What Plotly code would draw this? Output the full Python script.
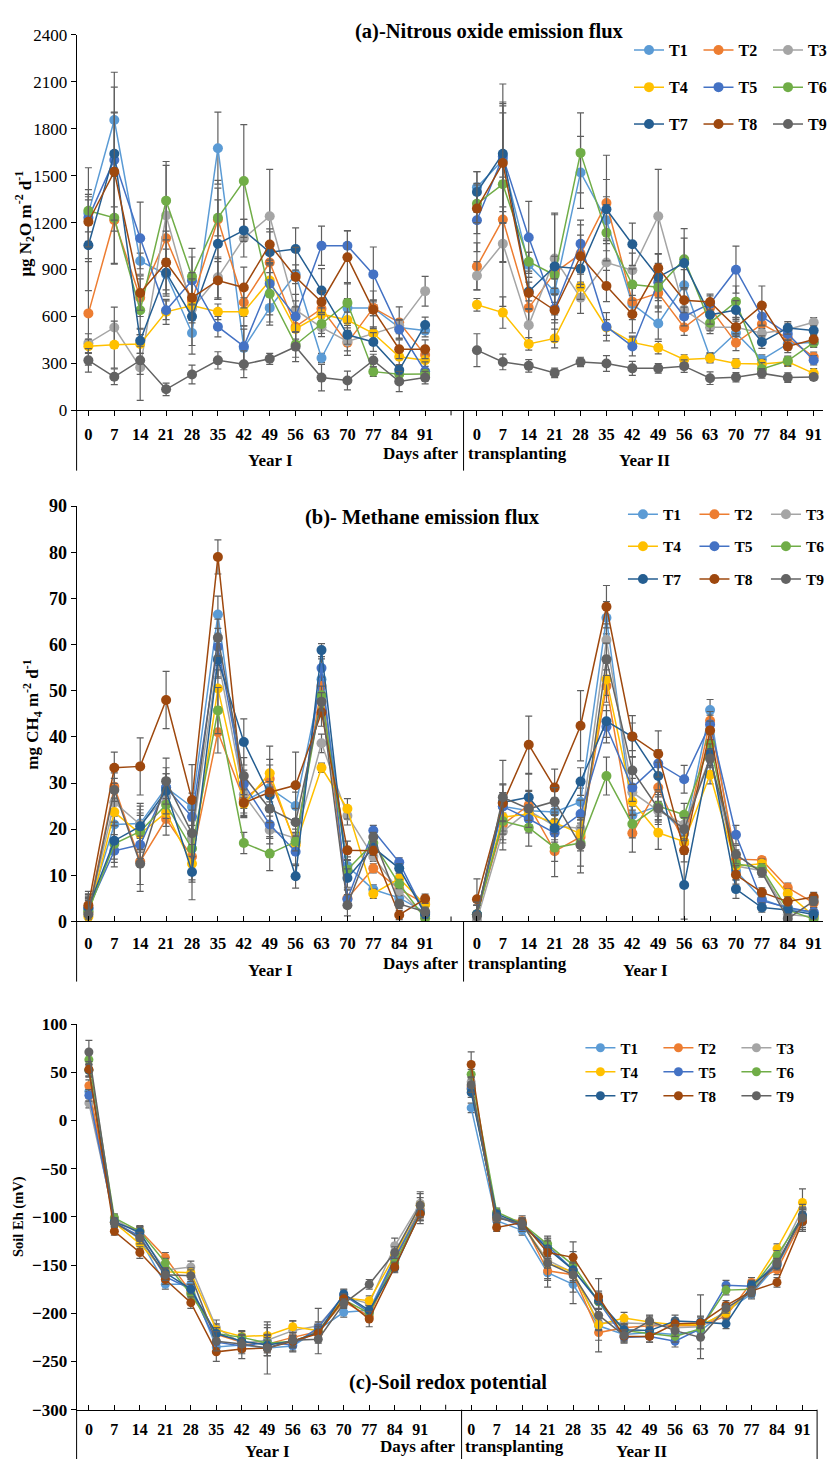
import plotly.graph_objects as go

W, H = 838, 1469
FONT = "Liberation Serif, Times New Roman, serif"


def px(x):
    return x / W


def py(y):
    return 1 - y / H


SERIES = ["T1", "T2", "T3", "T4", "T5", "T6", "T7", "T8", "T9"]
COLORS = ["#5B9BD5", "#ED7D31", "#A5A5A5", "#FFC000", "#4472C4",
          "#70AD47", "#255E91", "#9E480E", "#636363"]
DAYS = [0, 7, 14, 21, 28, 35, 42, 49, 56, 63, 70, 77, 84, 91]
ERR_COLOR = "#5F5F5F"

# ---------------- (a) N2O flux (ug N2O m-2 d-1): Year I then Year II ----------------
N2O_T1 = [1260, 1855, 955, 870, 495, 1675, 400, 655, 870, 335, 655, 655, 530, 510,
          1425, 1600, 930, 760, 1520, 1215, 680, 555, 800, 340, 495, 325, 425, 436]
N2O_T2 = [620, 1215, 720, 1100, 700, 1220, 690, 945, 535, 650, 432, 655, 562, 355,
          920, 1220, 655, 880, 1000, 1325, 695, 750, 530, 655, 432, 552, 462, 342]
N2O_T3 = [430, 530, 275, 1245, 650, 850, 1100, 1240, 642, 531, 441, 493, 542, 762,
          860, 1065, 545, 970, 720, 945, 895, 1240, 643, 531, 531, 493, 517, 563]
N2O_T4 = [410, 420, 425, 630, 670, 630, 630, 830, 521, 615, 578, 493, 343, 321,
          675, 625, 425, 460, 790, 530, 435, 401, 326, 334, 300, 296, 311, 237]
N2O_T5 = [1230, 1600, 1100, 640, 830, 535, 410, 810, 600, 1052, 1052, 869, 517, 250,
          1215, 1620, 1105, 650, 1065, 535, 409, 819, 600, 682, 899, 600, 489, 321]
N2O_T6 = [1275, 1230, 640, 1340, 855, 1230, 1465, 745, 420, 552, 687, 248, 231, 233,
          1320, 1445, 950, 865, 1645, 1135, 804, 787, 966, 559, 695, 265, 317, 433]
N2O_T7 = [1055, 1640, 445, 880, 600, 1065, 1150, 1010, 1031, 766, 483, 437, 258, 546,
          1395, 1640, 760, 920, 905, 1285, 1062, 852, 941, 611, 641, 437, 527, 510]
N2O_T8 = [1205, 1525, 750, 945, 720, 830, 785, 1060, 852, 693, 978, 643, 391, 391,
          1290, 1580, 750, 640, 985, 795, 615, 909, 704, 693, 531, 670, 409, 453]
N2O_T9 = [320, 215, 320, 135, 230, 320, 295, 330, 407, 210, 191, 319, 185, 210,
          385, 310, 285, 240, 310, 300, 269, 269, 283, 206, 212, 237, 210, 214]

N2O_T1_ERR = [290, 305, 50, 100, 80, 230, 140, 90, 60, 30, 60, 50, 40, 40,
              100, 300, 80, 150, 230, 150, 100, 100, 100, 30, 60, 30, 40, 30]
N2O_T2_ERR = [330, 280, 120, 150, 120, 250, 90, 100, 80, 40, 80, 50, 100, 50,
              150, 270, 100, 100, 120, 305, 100, 120, 50, 40, 50, 40, 40, 30]
N2O_T3_ERR = [60, 130, 210, 320, 60, 130, 120, 300, 100, 60, 60, 40, 40, 95,
              90, 400, 100, 280, 100, 140, 110, 300, 60, 40, 40, 30, 40, 30]
N2O_T4_ERR = [45, 150, 60, 80, 60, 50, 90, 100, 80, 40, 50, 40, 50, 40,
              40, 100, 40, 60, 80, 50, 40, 40, 30, 30, 30, 30, 30, 30]
N2O_T5_ERR = [150, 300, 230, 60, 150, 65, 110, 200, 100, 125, 95, 175, 60, 60,
              200, 350, 230, 90, 150, 90, 60, 100, 60, 50, 150, 60, 40, 30]
N2O_T6_ERR = [135, 290, 120, 250, 180, 115, 360, 200, 80, 60, 130, 30, 30, 30,
              120, 500, 60, 120, 255, 180, 100, 120, 195, 50, 100, 40, 30, 30]
N2O_T7_ERR = [290, 425, 80, 150, 240, 355, 70, 130, 135, 140, 60, 60, 30, 50,
              130, 445, 60, 340, 100, 190, 135, 150, 160, 60, 60, 40, 40, 30]
N2O_T8_ERR = [160, 380, 110, 200, 160, 120, 130, 100, 190, 70, 170, 120, 60, 60,
              160, 380, 100, 200, 200, 100, 120, 90, 80, 50, 60, 125, 40, 30]
N2O_T9_ERR = [75, 50, 90, 40, 60, 55, 85, 35, 95, 85, 60, 40, 65, 40,
              105, 50, 40, 30, 30, 50, 45, 30, 40, 40, 30, 30, 30, 20]

# ---------------- (b) CH4 flux (mg CH4 m-2 d-1) ----------------
CH4_T1 = [2.5, 21.0, 21.2, 29.0, 24.8, 66.5, 26.0, 28.9, 25.0, 52.5, 12.0, 6.9, 5.1, 2.0,
          1.5, 24.9, 24.0, 23.7, 25.9, 65.8, 23.0, 25.0, 19.0, 45.8, 11.0, 4.8, 2.8, 1.9]
CH4_T2 = [2.0, 29.2, 13.0, 22.2, 14.0, 41.0, 26.5, 30.9, 17.0, 51.0, 5.0, 11.5, 7.0, 3.8,
          1.5, 21.0, 25.2, 15.2, 18.3, 51.0, 19.1, 29.0, 17.0, 43.5, 13.5, 13.3, 7.3, 4.0]
CH4_T3 = [1.8, 25.8, 21.0, 27.0, 18.0, 57.0, 27.5, 19.8, 18.0, 38.6, 22.9, 14.0, 6.6, 1.0,
          0.3, 19.5, 24.0, 20.7, 20.2, 61.0, 28.0, 24.0, 21.0, 35.5, 12.0, 11.0, 1.5, 1.0]
CH4_T4 = [1.0, 23.7, 19.0, 23.6, 12.5, 50.5, 25.5, 32.1, 16.5, 33.3, 24.4, 6.0, 9.3, 3.6,
          1.5, 22.6, 23.3, 21.4, 19.0, 52.5, 26.0, 19.2, 17.3, 31.8, 12.0, 12.5, 6.0, 1.2]
CH4_T5 = [2.8, 15.3, 16.6, 29.0, 22.7, 59.5, 29.8, 21.0, 15.1, 54.9, 4.8, 19.7, 12.8, 1.6,
          1.5, 24.9, 22.2, 19.2, 23.3, 42.2, 29.0, 34.2, 30.8, 42.7, 18.8, 4.5, 3.0, 2.0]
CH4_T6 = [2.2, 16.8, 19.5, 25.3, 15.8, 45.7, 17.0, 14.7, 17.3, 49.0, 11.2, 17.0, 8.1, 0.7,
          1.5, 21.7, 20.3, 16.0, 17.0, 31.5, 21.1, 25.0, 23.1, 38.5, 12.5, 11.5, 2.5, 0.5]
CH4_T7 = [3.0, 17.5, 20.6, 28.3, 10.7, 56.7, 38.9, 27.3, 9.8, 58.8, 9.4, 16.0, 11.5, 1.6,
          1.5, 25.8, 26.9, 20.2, 30.3, 43.4, 40.0, 31.5, 7.9, 36.5, 7.0, 3.0, 2.5, 1.5]
CH4_T8 = [3.5, 33.3, 33.6, 48.0, 26.3, 79.0, 25.7, 28.0, 29.5, 45.3, 15.4, 15.3, 1.4, 4.9,
          4.8, 25.6, 38.3, 29.0, 42.4, 68.2, 40.1, 36.3, 15.4, 41.4, 10.1, 6.3, 4.3, 5.3]
CH4_T9 = [1.5, 28.5, 12.5, 30.4, 19.1, 61.5, 31.5, 24.4, 21.5, 47.6, 3.5, 18.3, 3.8, 2.1,
          1.2, 26.9, 24.4, 26.0, 16.5, 56.8, 32.7, 24.5, 20.0, 35.3, 14.5, 10.6, 0.6, 4.4]

CH4_T1_ERR = [3, 3, 3, 3, 3, 4, 3, 3, 3, 2, 2, 1, 1, 1,
              2, 3, 3, 3, 3, 3.5, 3, 3, 2.5, 2.3, 2, 1, 1, 1]
CH4_T2_ERR = [3, 3, 5, 3.5, 5, 4.5, 3, 3, 2, 2, 2, 1, 1, 1,
              2, 4, 3, 5.5, 3, 3.5, 4.1, 3, 2.5, 2, 2, 0.7, 1, 1]
CH4_T3_ERR = [3, 3, 4, 3, 4, 4, 3, 3, 2, 2, 2, 1, 1, 1,
              2, 4, 3, 3, 3, 3.5, 3, 3, 2.5, 2, 2, 1, 1, 1]
CH4_T4_ERR = [3, 3, 4, 3, 4, 4, 3, 3, 2, 1, 2.2, 1, 1, 1,
              2, 3, 3, 3, 3, 3.5, 3, 3.6, 2.5, 2, 2, 1, 1, 1]
CH4_T5_ERR = [3, 3.5, 3, 3, 3, 4, 3, 3, 3, 2, 2, 1.1, 1, 1,
              2, 3, 3, 3, 3, 3.5, 3, 3, 3, 2, 2, 1, 1, 1]
CH4_T6_ERR = [3, 4, 4, 3, 5, 5, 2.3, 3.7, 2, 2, 2, 1, 1, 1,
              2, 4, 4, 3, 5, 4.1, 3, 3, 2.5, 2, 2, 1, 1, 1]
CH4_T7_ERR = [3, 4, 5, 5, 6, 4, 5, 3, 2.6, 1.4, 2, 1, 1, 1,
              2, 4, 5, 3, 3, 3.5, 3, 3, 7.4, 2, 2, 1, 1, 1]
CH4_T8_ERR = [3, 3.4, 6.2, 6.2, 7.7, 3.7, 3, 10, 7.2, 3, 2, 1, 1, 1,
              4.4, 4, 6.2, 4, 7.6, 4.6, 4.5, 5, 2.5, 2, 2, 1, 1, 1]
CH4_T9_ERR = [3, 2.5, 6, 5, 5, 4, 4, 3, 3, 2, 2.3, 1, 1, 1,
              3, 8, 4, 3, 6, 3.5, 3, 3, 2.5, 2, 2, 1, 1, 1]

# ---------------- (c) Soil Eh (mV) ----------------
EH_T1 = [30, -105, -123, -170, -170, -235, -233, -236, -234, -217, -199, -197, -142, -92,
         13, -104, -114, -158, -170, -213, -222, -220, -222, -218, -198, -180, -150, -105]
EH_T2 = [36, -106, -114, -142, -178, -222, -230, -232, -225, -219, -188, -203, -145, -93,
         35, -102, -104, -156, -160, -220, -215, -213, -213, -213, -203, -168, -155, -103]
EH_T3 = [18, -102, -118, -155, -152, -215, -231, -228, -218, -213, -183, -190, -130, -86,
         40, -100, -108, -145, -158, -210, -210, -211, -215, -214, -198, -176, -145, -92]
EH_T4 = [52, -106, -128, -157, -158, -217, -224, -223, -214, -218, -184, -187, -140, -88,
         32, -100, -106, -148, -157, -212, -205, -209, -212, -212, -200, -174, -133, -85]
EH_T5 = [26, -106, -120, -162, -175, -230, -234, -230, -233, -215, -181, -199, -143, -95,
         33, -99, -110, -130, -155, -188, -225, -224, -229, -216, -171, -172, -148, -100]
EH_T6 = [63, -101, -115, -148, -180, -221, -225, -231, -229, -220, -186, -200, -148, -96,
         48, -95, -107, -128, -150, -188, -218, -221, -224, -216, -176, -175, -140, -100]
EH_T7 = [52, -105, -116, -158, -175, -221, -229, -233, -229, -220, -180, -197, -153, -96,
         29, -97, -108, -133, -155, -187, -217, -218, -208, -209, -211, -171, -150, -98]
EH_T8 = [53, -115, -137, -165, -189, -240, -237, -236, -229, -221, -185, -206, -152, -97,
         58, -111, -106, -137, -142, -183, -224, -224, -211, -210, -192, -177, -168, -105]
EH_T9 = [71, -106, -122, -160, -161, -229, -232, -236, -228, -227, -190, -170, -137, -88,
         37, -101, -107, -148, -160, -202, -223, -208, -218, -225, -195, -178, -148, -101]

EH_T1_ERR = [6, 4, 5, 5, 5, 6, 6, 8, 6, 6, 5, 5, 5, 8,
             5, 4, 5, 8, 8, 8, 6, 6, 6, 6, 5, 5, 5, 8]
EH_T2_ERR = [6, 4, 5, 5, 5, 6, 6, 8, 6, 6, 5, 5, 5, 8,
             5, 4, 5, 8, 8, 8, 6, 6, 6, 6, 5, 5, 5, 8]
EH_T3_ERR = [5, 4, 8, 6, 6, 8, 8, 16, 10, 18, 5, 5, 8, 12,
             5, 4, 5, 8, 32, 8, 6, 6, 6, 33, 5, 5, 5, 8]
EH_T4_ERR = [6, 4, 5, 5, 5, 6, 6, 8, 6, 6, 5, 5, 5, 8,
             5, 4, 5, 5, 5, 5, 6, 6, 5, 5, 5, 5, 5, 14]
EH_T5_ERR = [6, 4, 5, 5, 5, 6, 6, 8, 6, 6, 5, 5, 5, 8,
             5, 4, 5, 8, 8, 8, 6, 6, 6, 6, 5, 5, 5, 8]
EH_T6_ERR = [6, 4, 5, 5, 5, 6, 6, 8, 6, 6, 5, 5, 5, 8,
             5, 4, 5, 8, 8, 8, 6, 6, 6, 6, 5, 5, 5, 8]
EH_T7_ERR = [6, 4, 5, 5, 5, 6, 6, 8, 6, 6, 5, 5, 5, 8,
             5, 4, 5, 8, 8, 8, 6, 6, 6, 6, 5, 5, 5, 8]
EH_T8_ERR = [8, 4, 6, 5, 6, 10, 10, 8, 5, 5, 5, 8, 5, 10,
             13, 4, 5, 6, 6, 6, 6, 6, 6, 6, 5, 5, 5, 10]
EH_T9_ERR = [12, 5, 6, 6, 6, 10, 10, 27, 8, 15, 5, 5, 6, 12,
             8, 5, 5, 25, 6, 38, 6, 6, 6, 12, 5, 5, 5, 14]

N2O = [N2O_T1, N2O_T2, N2O_T3, N2O_T4, N2O_T5, N2O_T6, N2O_T7, N2O_T8, N2O_T9]
N2O_ERR = [N2O_T1_ERR, N2O_T2_ERR, N2O_T3_ERR, N2O_T4_ERR, N2O_T5_ERR,
           N2O_T6_ERR, N2O_T7_ERR, N2O_T8_ERR, N2O_T9_ERR]
CH4 = [CH4_T1, CH4_T2, CH4_T3, CH4_T4, CH4_T5, CH4_T6, CH4_T7, CH4_T8, CH4_T9]
CH4_ERR = [CH4_T1_ERR, CH4_T2_ERR, CH4_T3_ERR, CH4_T4_ERR, CH4_T5_ERR,
           CH4_T6_ERR, CH4_T7_ERR, CH4_T8_ERR, CH4_T9_ERR]
EH = [EH_T1, EH_T2, EH_T3, EH_T4, EH_T5, EH_T6, EH_T7, EH_T8, EH_T9]
EH_ERR = [EH_T1_ERR, EH_T2_ERR, EH_T3_ERR, EH_T4_ERR, EH_T5_ERR,
          EH_T6_ERR, EH_T7_ERR, EH_T8_ERR, EH_T9_ERR]

# category positions: Year I (0-13), one empty slot (14), Year II (15-28)
X_POS = list(range(29))
LABEL_POS = list(range(14)) + list(range(15, 29))
TICKTEXT = [str(d) for d in DAYS] + [str(d) for d in DAYS]
GAP_POS = 14


def split(v):
    return list(v[:14]) + [None] + list(v[14:])


fig = go.Figure()

panels = [
    dict(vals=N2O, errs=N2O_ERR, xa="x", ya="y", leg=["legend", "legend2", "legend3"], ms=10),
    dict(vals=CH4, errs=CH4_ERR, xa="x2", ya="y2", leg=["legend4", "legend5", "legend6"], ms=10),
    dict(vals=EH, errs=EH_ERR, xa="x3", ya="y3", leg=["legend7", "legend8", "legend9"], ms=9),
]

for p in panels:
    for i, s in enumerate(SERIES):
        errs = [0 if e is None else e for e in split(p["errs"][i])]
        fig.add_trace(go.Scatter(
            x=X_POS, y=split(p["vals"][i]), name=s, mode="lines+markers",
            line=dict(color=COLORS[i], width=1.5),
            marker=dict(color=COLORS[i], size=p["ms"]),
            error_y=dict(type="data", array=errs, color=ERR_COLOR, thickness=1.2, width=3.5),
            connectgaps=False, xaxis=p["xa"], yaxis=p["ya"], legend=p["leg"][i // 3],
        ))


def xaxis_cfg(dom_right, rng, anchor, ticks, standoff, fsize):
    return dict(domain=[px(78), dom_right], range=rng, anchor=anchor,
                tickvals=LABEL_POS, ticktext=TICKTEXT, showline=True, linecolor="black",
                linewidth=1, ticks=ticks, ticklen=5, tickcolor="black", showgrid=False,
                zeroline=False, ticklabelstandoff=standoff, fixedrange=True,
                tickfont=dict(family=FONT, size=fsize, color="black", weight="bold"))


ycommon = dict(showline=True, linecolor="black", linewidth=1, ticks="outside", ticklen=5,
               tickcolor="black", showgrid=False, zeroline=False, fixedrange=True)

fig.update_layout(
    width=W, height=H, margin=dict(l=0, r=0, t=0, b=0),
    paper_bgcolor="white", plot_bgcolor="white",
    xaxis=xaxis_cfg(1.0, [-0.455, 28.36], "y", "outside", 4, 16.5),
    yaxis=dict(domain=[py(406), py(25)], range=[0, 2400], dtick=300, anchor="x",
               tickfont=dict(family=FONT, size=17, color="black"), **ycommon),
    xaxis2=xaxis_cfg(1.0, [-0.455, 28.36], "y2", "inside", 7, 16.5),
    yaxis2=dict(domain=[py(924), py(503)], range=[0, 90], dtick=10, anchor="x2",
                tickfont=dict(family=FONT, size=18, color="black", weight="bold"), **ycommon),
    xaxis3=xaxis_cfg(px(832), [-0.482, 28.574], "y3", "inside", 5, 16),
    yaxis3=dict(domain=[py(1419), py(1028)], range=[-300, 100], dtick=50, anchor="x3",
                tickfont=dict(family=FONT, size=17, color="black", weight="bold"), **ycommon),
)

# legends: 3 rows x 3 columns per panel
leg_specs = [
    (["legend", "legend2", "legend3"], 640.7, [40.7, 78.3, 115.7], 24.5, 16),
    (["legend4", "legend5", "legend6"], 634.3, [511.7, 544.0, 577.3], 26.5, 15.5),
    (["legend7", "legend8", "legend9"], 591.0, [1052.3, 1076.7, 1101.0], 33.0, 15),
]
for names, lx, rows, ew, fs in leg_specs:
    for name, ry in zip(names, rows):
        fig.update_layout({name: dict(
            orientation="h", x=px(lx), y=py(ry), xanchor="left", yanchor="middle",
            entrywidth=ew, entrywidthmode="pixels", itemwidth=30,
            bgcolor="rgba(0,0,0,0)", borderwidth=0, traceorder="normal",
            font=dict(family=FONT, size=fs, color="black", weight="bold"),
        )})

ann = []


def text(x, y, s, size=17, xanchor="center", angle=0):
    ann.append(dict(x=px(x), y=py(y), xref="paper", yref="paper", text=s, showarrow=False,
                    xanchor=xanchor, yanchor="middle", textangle=angle,
                    font=dict(family=FONT, size=size, color="black", weight="bold")))


# titles
text(498, 22, "(a)-Nitrous oxide emission flux", 20.5)
text(430, 515, "(b)- Methane emission flux", 20.5)
text(456, 1391, "(c)-Soil redox potential", 20.3)
# y titles
text(25, 217, "μg N<sub>2</sub>O m<sup>-2</sup> d<sup>-1</sup>", 17, angle=-90)
text(33, 714, "mg CH<sub>4</sub> m<sup>-2</sup> d<sup>-1</sup>", 17, angle=-90)
text(19, 1223, "Soil Eh (mV)", 14.5, angle=-90)
# x-axis group labels
for (yy, yd, second, dx) in [(457, 450, "Year II", 0), (974, 967, "Year I", 0),
                             (1461, 1456, "Year II", -3)]:
    text(275 + dx, yy, "Year I", 17)
    text(469 + dx, yd, "Days after", 17, xanchor="right")
    text(474 + dx, yd, "transplanting", 17, xanchor="left")
    text(657 + dx, yy, second, 17)
fig.update_layout(annotations=ann)

shapes = []
for (top, bot, xdiv) in [(406, 467, 472), (924, 985, 472), (1419, 1469, 470)]:
    shapes.append(dict(type="line", xref="paper", yref="paper", x0=px(78), x1=px(78),
                       y0=py(top), y1=py(bot), line=dict(color="black", width=1)))
    shapes.append(dict(type="line", xref="paper", yref="paper", x0=px(xdiv), x1=px(xdiv),
                       y0=py(top), y1=py(bot), line=dict(color="black", width=1)))
# tick mark at the empty category slot between the two seasons
for (xr, axis_y, tick_end) in [("x", 406, 411), ("x2", 924, 919), ("x3", 1419, 1414)]:
    shapes.append(dict(type="line", xref=xr, yref="paper", x0=GAP_POS, x1=GAP_POS,
                       y0=py(axis_y), y1=py(tick_end), line=dict(color="black", width=1)))
# right-hand closing line under panel (c)
shapes.append(dict(type="line", xref="paper", yref="paper", x0=px(832), x1=px(832),
                   y0=py(1419), y1=py(1469), line=dict(color="black", width=1)))
fig.update_layout(shapes=shapes)

fig.write_html("out.html",
               post_script="document.body.style.margin='0';document.body.style.padding='0';")
